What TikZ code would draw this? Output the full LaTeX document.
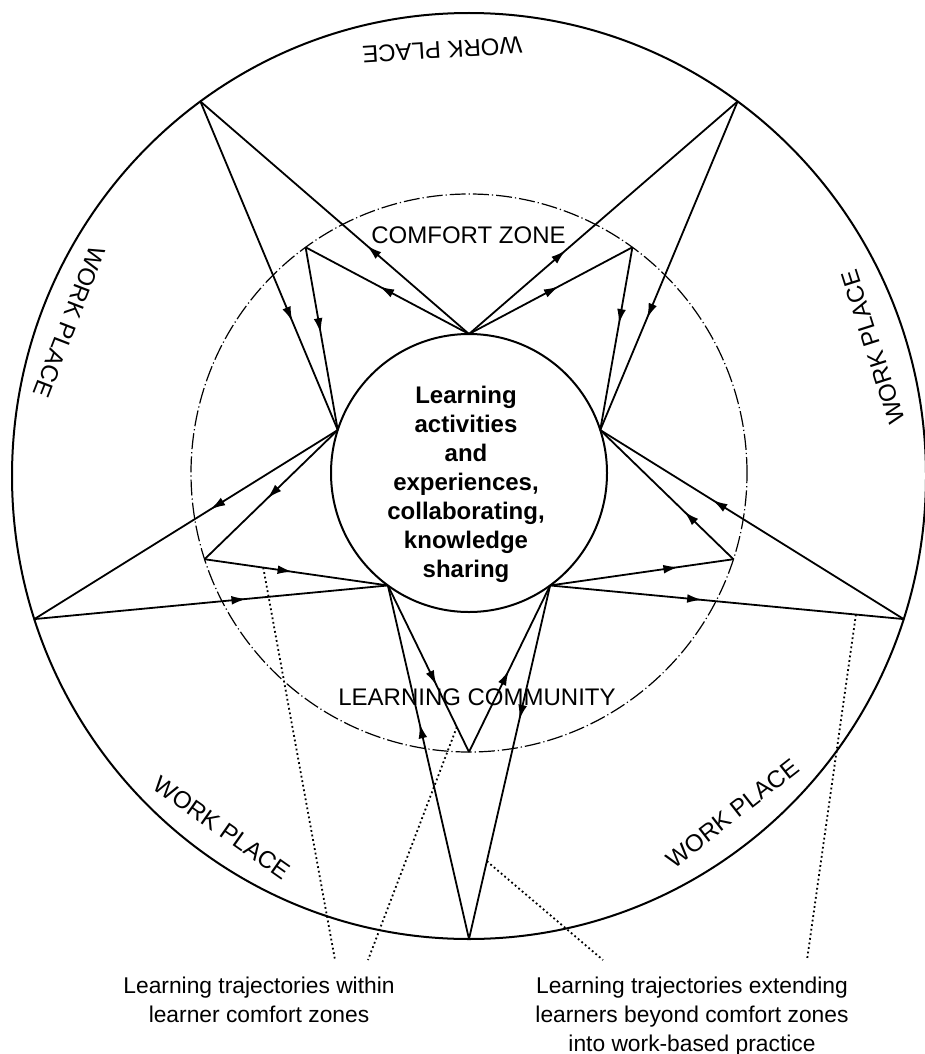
\documentclass[tikz,border=0pt]{standalone}
\usepackage{fontspec}
\setmainfont{Liberation Sans}
\usetikzlibrary{arrows.meta,decorations.markings,calc}
\begin{document}
\begin{tikzpicture}[x=0.5pt,y=0.5pt,
  lbl/.style={font=\fontsize{12}{14.4}\selectfont, inner sep=0},
  notetext/.style={font=\fontsize{11.4}{14.4}\selectfont, align=center, inner sep=0},
  core/.style={font=\bfseries\fontsize{12}{14.5}\selectfont, align=center, inner sep=0},
  ring/.style={line width=1pt},
  zone/.style={line width=0.6pt, dash pattern=on 8pt off 1.5pt on 0.6pt off 1.5pt},
  traj/.style={line width=0.9pt},
  arr/.style={traj, postaction={decorate}, decoration={markings, mark=at position #1 with {\arrow{Latex[length=7.5pt,width=4.4pt]}}}},
  lead/.style={line width=0.9pt, dash pattern=on 0.9pt off 1.4pt}]
\useasboundingbox (0,0) rectangle (925,-1054);
\coordinate (Co) at (469,-476);
\coordinate (Ci) at (469,-473);
% circles
\draw[ring] (Co) ellipse [x radius=457, y radius=463];
\draw[zone] (Ci) ellipse [x radius=278, y radius=279];
\draw[ring] (Ci) ellipse [x radius=138, y radius=139];
% inner points
\path (Ci) ++(90:138 and 139) coordinate (iT);
\path (Ci) ++(162:138 and 139) coordinate (iUL);
\path (Ci) ++(234:138 and 139) coordinate (iLL);
\path (Ci) ++(306:138 and 139) coordinate (iLR);
\path (Ci) ++(18:138 and 139) coordinate (iUR);
% comfort-zone points
\path (Ci) ++(126:278 and 279) coordinate (sTL);
\path (Ci) ++(198:278 and 279) coordinate (sL);
\path (Ci) ++(270:278 and 279) coordinate (sB);
\path (Ci) ++(342:278 and 279) coordinate (sR);
\path (Ci) ++(54:278 and 279) coordinate (sTR);
% work-place points
\path (Co) ++(126:457 and 463) coordinate (oTL);
\path (Co) ++(198:457 and 463) coordinate (oL);
\path (Co) ++(270:457 and 463) coordinate (oB);
\path (Co) ++(342:457 and 463) coordinate (oR);
\path (Co) ++(54:457 and 463) coordinate (oTR);
% trajectories
\draw[arr=0.38] (iT) -- (oTL);
\draw[arr=0.55] (iT) -- (sTL);
\draw[arr=0.67] (oTL) -- (iUL);
\draw[arr=0.47] (sTL) -- (iUL);
\draw[arr=0.55] (iT) -- (sTR);
\draw[arr=0.36] (iT) -- (oTR);
\draw[arr=0.42] (sTR) -- (iUR);
\draw[arr=0.66] (oTR) -- (iUR);
\draw[arr=0.42] (iUL) -- (oL);
\draw[arr=0.53] (iUL) -- (sL);
\draw[arr=0.48] (sL) -- (iLL);
\draw[arr=0.60] (oL) -- (iLL);
\draw[arr=0.37] (sR) -- (iUR);
\draw[arr=0.63] (oR) -- (iUR);
\draw[arr=0.70] (iLR) -- (sR);
\draw[arr=0.43] (iLR) -- (oR);
\draw[arr=0.60] (iLL) -- (sB);
\draw[arr=0.49] (sB) -- (iLR);
\draw[arr=0.61] (oB) -- (iLL);
\draw[arr=0.38] (iLR) -- (oB);
% labels
\node[core] (centre) at (466,-484) {Learning\\activities\\and\\experiences,\\collaborating,\\knowledge\\sharing};
\node[lbl, anchor=base] (cz) at (468.5,-243) {COMFORT ZONE};
\node[lbl, anchor=base] (lc) at (477,-705) {LEARNING COMMUNITY};
\node[lbl, rotate=183.6] (wpT) at ($(Co)+(93.6:427)$) {WORK PLACE};
\node[lbl, rotate=-111.1] (wpL) at ($(Co)+(158.9:428)$) {WORK PLACE};
\node[lbl, rotate=107.7] (wpR) at ($(Co)+(17.7:424)$) {WORK PLACE};
\node[lbl, rotate=-35.1] (wpBL) at ($(Co)+(234.9:430)$) {WORK PLACE};
\node[lbl, rotate=38] (wpBR) at ($(Co)+(308:428)$) {WORK PLACE};
\node[notetext, anchor=north] (noteL) at (259,-977) {Learning trajectories within\\learner comfort zones};
\node[notetext, anchor=north] (noteR) at (692,-977) {Learning trajectories extending\\learners beyond comfort zones\\into work-based practice};
% leader lines
\coordinate (d1s) at ($(sL)!0.32!(iLL)$);
\coordinate (d2s) at ($(iLL)!0.85!(sB)$);
\coordinate (d3s) at ($(iLR)!0.78!(oB)$);
\coordinate (d4s) at ($(iLR)!0.865!(oR)$);
\coordinate (d1e) at (335,-960);
\coordinate (d2e) at (368,-960);
\coordinate (d3e) at (603,-960);
\coordinate (d4e) at (807,-960);
\draw[lead] (d1s) -- (d1e);
\draw[lead] (d2s) -- (d2e);
\draw[lead] (d3s) -- (d3e);
\draw[lead] (d4s) -- (d4e);
\end{tikzpicture}
\end{document}
